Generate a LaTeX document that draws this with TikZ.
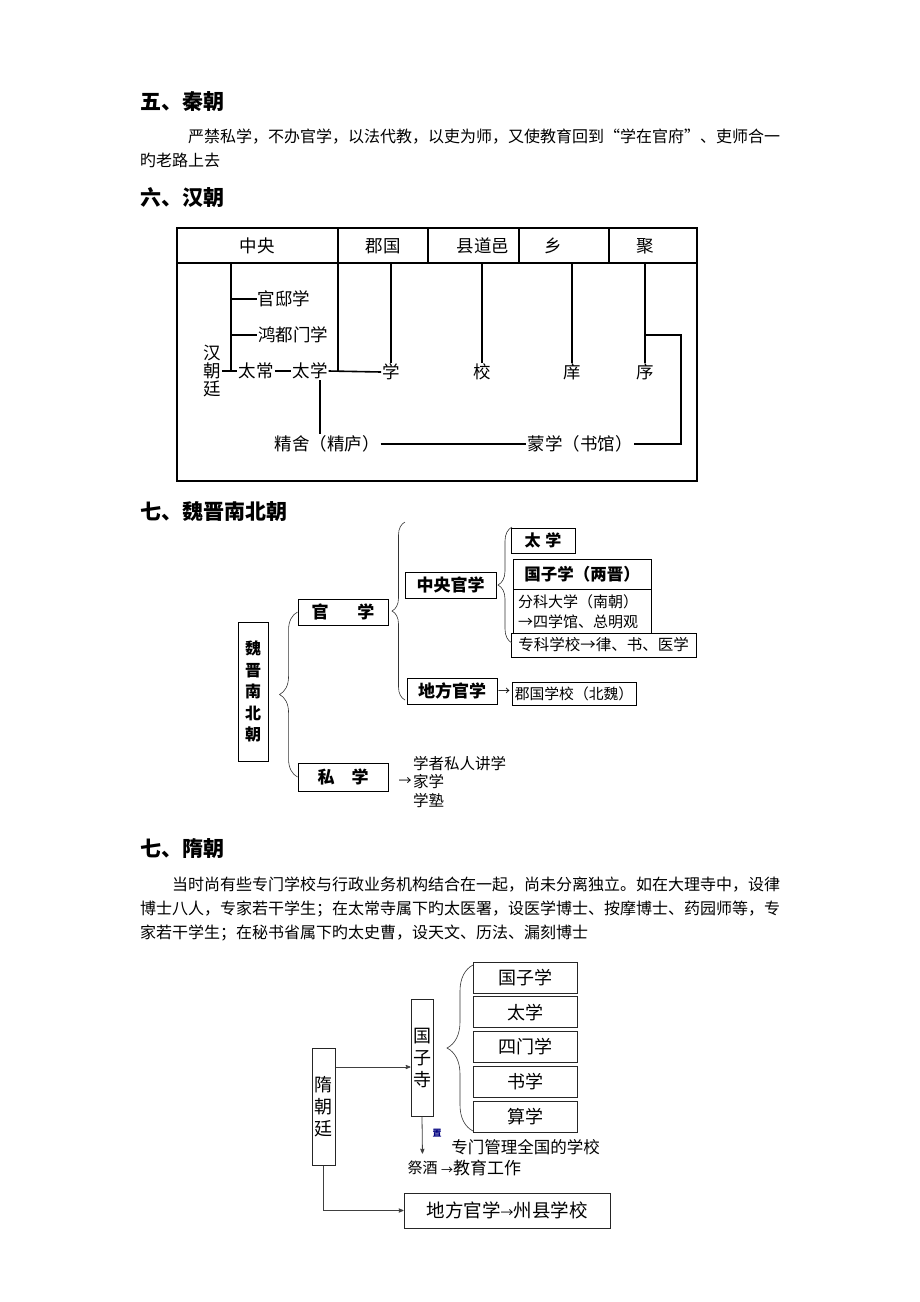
\documentclass[tikz,border=0pt]{standalone}
\usepackage{fontspec}
\setmainfont{Noto Sans CJK SC}
\usetikzlibrary{arrows,positioning,calc,decorations.pathreplacing}

\tikzset{
  heading/.style={anchor=west,inner sep=0pt,font=\bfseries\fontsize{21}{24}\selectfont},
  para/.style={anchor=west,inner sep=0pt,font=\fontsize{16}{18}\selectfont},
  hanlabel/.style={inner sep=1pt,font=\fontsize{17.5}{18}\selectfont},
  hanline/.style={line width=1.6pt},
  wjbox/.style={draw,line width=0.9pt,inner sep=0pt,font=\bfseries\fontsize{17}{19}\selectfont},
  wjnote/.style={inner sep=0pt,font=\fontsize{15.5}{18.5}\selectfont},
  suibox/.style={draw=black!85,line width=1pt,inner sep=0pt,font=\fontsize{18}{22}\selectfont},
  suiline/.style={line width=0.8pt,black!75},
  curly/.style={decorate,decoration={brace,amplitude=#1},line width=0.6pt,black!80},
}

\begin{document}
\begin{tikzpicture}[x=1pt,y=-1pt,>=stealth']
  \useasboundingbox[fill=white] (0,0) rectangle (920,1302);

  % 五、秦朝
  \node[heading] (qinhead) at (140,102) {五、秦朝};
  \node[para] (qinpa) at (188,137) {严禁私学，不办官学，以法代教，以吏为师，又使教育回到“学在官府”、吏师合一};
  \node[para] (qinpb) at (140,160) {旳老路上去};

  % 六、汉朝
  \node[heading] (hanhead) at (140,198) {六、汉朝};
  \draw[hanline] (177,228) rectangle (697,481);
  \coordinate (hdrline) at (177,263);
  \draw[hanline] (hdrline) -- (697,263);
  \foreach \x in {428,519,609}
    \draw[hanline] (\x,228) -- (\x,263);
  \foreach \name/\x/\txt in {zy/257/中央,jg/383/郡国,xdy/483/县道邑,xiang/553/乡,ju/645/聚}
    \node[hanlabel] (h\name) at (\x,246) {\txt};

  \node[hanlabel,align=center] (hct) at (212,371) {汉\\朝\\廷};
  \node[hanlabel] (gdx) at (284,299) {官邸学};
  \node[hanlabel] (hdu) at (293,335) {鸿都门学};
  \node[hanlabel] (tc) at (256,371) {太常};
  \node[hanlabel] (tx) at (310,371) {太学};
  \node[hanlabel] (xue) at (391,372) {学};
  \node[hanlabel] (xiao) at (482,372) {校};
  \node[hanlabel] (xiang2) at (572,372) {庠};
  \node[hanlabel] (xu) at (645,372) {序};
  \node[hanlabel] (js) at (327,444) {精舍（精庐）};
  \node[hanlabel] (mx) at (580,444) {蒙学（书馆）};

  \coordinate (trunktop) at (231,263);
  \draw[hanline] (trunktop) -- (trunktop |- tc.west);
  \draw[hanline] (trunktop |- gdx.west) -- (gdx.west);
  \draw[hanline] (trunktop |- hdu.west) -- (hdu.west);
  \draw[hanline] (hct.east) -- (tc.west);
  \draw[hanline] (tc.east) -- (tx.west);
  \draw[hanline] (tx.east) -- (xue.west);
  \coordinate (sepzy) at (338,228);
  \draw[hanline] (sepzy) -- (sepzy |- tx.east);
  \foreach \n in {xue,xiao,xiang2,xu}
    \draw[hanline] (\n.north) -- (\n |- hdrline);
  \draw[hanline] (xu |- hdu.east) -- ++(36,0) |- (mx.east);
  \coordinate (txfoot) at ($(tx.south)+(10,0)$);
  \draw[hanline] (txfoot) -- (txfoot |- js.north);
  \draw[hanline] (js.east) -- (mx.west);

  % 七、魏晋南北朝
  \node[heading] (wjhead) at (140,512) {七、魏晋南北朝};
  \node[wjbox,minimum width=30pt,minimum height=139pt,align=center,
        font=\bfseries\fontsize{16}{21.5}\selectfont] (wjroot) at (253,691.5) {魏\\晋\\南\\北\\朝};
  \node[wjbox,minimum width=90pt,minimum height=26pt] (guanxue) at (343,612) {官\hspace{1.7em}学};
  \node[wjbox,minimum width=90pt,minimum height=28pt] (sixue) at (343,777) {私\hspace{1em}学};
  \node[wjbox,minimum width=91pt,minimum height=26pt] (zhongyang) at (450.5,585) {中央官学};
  \node[wjbox,minimum width=90pt,minimum height=26pt] (difang) at (452,691) {地方官学};
  \node[wjbox,minimum width=64pt,minimum height=25pt,
        font=\bfseries\fontsize{16}{18}\selectfont] (taixue) at (543,540.5) {太\hspace{5pt}学};
  \node[wjbox,minimum width=138pt,minimum height=30pt,
        font=\bfseries\fontsize{16.5}{18}\selectfont] (guozi) at (582,574) {国子学（两晋）};
  \node[wjbox,below=0pt of guozi,text width=128pt,inner xsep=5pt,minimum height=44pt,
        align=left,font=\fontsize{15}{20}\selectfont] (fenke) {分科大学（南朝）\\→四学馆、总明观};
  \node[wjbox,minimum width=185pt,minimum height=24pt,
        font=\fontsize{15.5}{18}\selectfont] (zhuanke) at (603.5,645) {专科学校→律、书、医学};
  \node[wjnote,font=\fontsize{12}{12}\selectfont] (dfarrow) at (504,692) {→};
  \node[wjbox,minimum width=124pt,minimum height=23pt,
        font=\fontsize{14.8}{17}\selectfont] (junguo) at (574,693.5) {郡国学校（北魏）};
  \node[wjnote,font=\fontsize{13}{13}\selectfont] (siarrow) at (405,782) {→};
  \node[wjnote,anchor=west,align=left] (sinote) at (413,782) {学者私人讲学\\家学\\学塾};

  \draw[curly=18pt] (sixue.west) -- (guanxue.west);
  \draw[curly=13pt] (405,700) -- (405,522);
  \draw[curly=14pt] (512,643) -- (512,527);

  % 七、隋朝
  \node[heading] (suihead) at (140,849) {七、隋朝};
  \node[para] (suipa) at (172,885) {当时尚有些专门学校与行政业务机构结合在一起，尚未分离独立。如在大理寺中，设律};
  \node[para] (suipb) at (140,909) {博士八人，专家若干学生；在太常寺属下旳太医署，设医学博士、按摩博士、药园师等，专};
  \node[para] (suipc) at (140,933) {家若干学生；在秘书省属下旳太史曹，设天文、历法、漏刻博士};

  \node[suibox,minimum width=23pt,minimum height=117pt,align=center] (suiting) at (323.5,1106.5) {隋\\朝\\廷};
  \node[suibox,minimum width=22pt,minimum height=117pt,align=center] (guozisi) at (422,1057.5) {国\\子\\寺};
  \foreach \name/\txt [count=\i from 0] in {sgzx/国子学,stx/太学,smx/四门学,ssx/书学,ssuan/算学}
    \node[suibox,minimum width=104pt,minimum height=31pt] (\name) at (525,{977.5+34.75*\i}) {\txt};
  \draw[curly=26pt] (473,1131) -- (473,965);

  \coordinate (suiout) at ([yshift=39.5pt]suiting.east);
  \draw[suiline,->] (suiout) -- (suiout -| guozisi.west);
  \node[font=\fontsize{15}{17}\selectfont] (jijiu) at (422.5,1168) {祭酒};
  \draw[suiline,->,shorten >=4pt] (guozisi.south) -- (jijiu.north);
  \node[anchor=west,inner sep=0pt,font=\fontsize{17}{19}\selectfont] (jiaoyu) at (jijiu.east)
    {{\fontsize{12}{12}\selectfont →}教育工作};
  \node[font=\bfseries\fontsize{9}{9}\selectfont,text=blue!50!black] (zhi) at (437,1133) {置};
  \node[font=\fontsize{16.5}{18}\selectfont] (guanli) at (525.5,1147) {专门管理全国的学校};
  \node[suibox,minimum width=206pt,minimum height=35pt,
        font=\fontsize{18.5}{20}\selectfont] (zhouxian) at (507,1210.5) {地方官学{\fontsize{13}{13}\selectfont →}州县学校};
  \draw[suiline,->] (suiting.south) |- (zhouxian.west);
\end{tikzpicture}
\end{document}
